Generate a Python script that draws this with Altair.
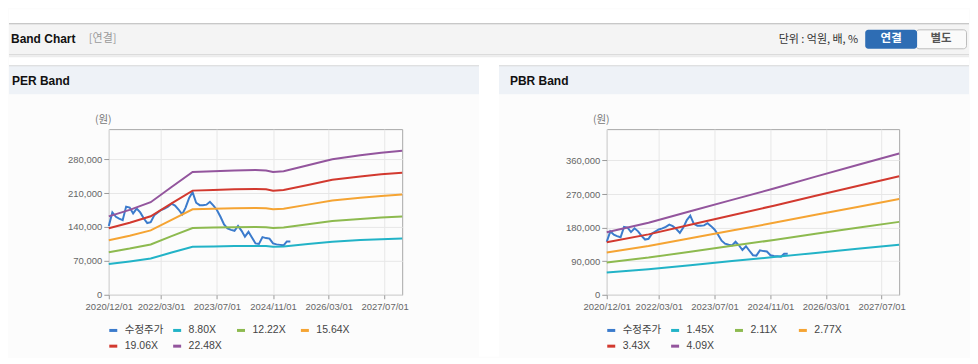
import altair as alt
import pandas as pd

# ---------------- data ----------------
band_dates = ["2020-12-01", "2021-06-01", "2021-12-01", "2022-06-01", "2022-12-01",
              "2023-06-01", "2023-12-01", "2024-06-01", "2024-09-01", "2024-11-01",
              "2025-02-01", "2025-09-01", "2026-04-01", "2026-12-01", "2027-06-01",
              "2027-12-01"]
per_labels = ["8.80X", "12.22X", "15.64X", "19.06X", "22.48X"]
per_880 = [63360, 68640, 74800, 87120, 99260, 99880, 100500, 100760, 100500, 99260,
           99880, 104720, 109560, 112820, 114840, 116340]
per_1222 = [87980, 95320, 103870, 120980, 137840, 138700, 139550, 139920, 139550, 137840,
            138700, 145420, 152140, 156660, 159470, 161550]
per_1564 = [112610, 121990, 132940, 154840, 176420, 177510, 178610, 179080, 178610, 176420,
            177510, 186120, 194720, 200500, 204100, 206760]
per_1906 = [137230, 148670, 162010, 188690, 215000, 216330, 217670, 218240, 217670, 215000,
            216330, 226810, 237300, 244350, 248730, 251970]
per_2248 = [161860, 175340, 191080, 222550, 253570, 255150, 256720, 257400, 256720, 253570,
            255150, 267510, 279880, 288190, 293360, 297190]

pbr_dates = ["2020-12-01", "2021-12-01", "2022-12-01", "2023-12-01", "2024-12-01",
             "2025-12-01", "2026-12-01", "2027-12-01"]
pbr_labels = ["1.45X", "2.11X", "2.77X", "3.43X", "4.09X"]
pbr_145 = [59450, 68440, 79320, 90190, 100920, 112230, 123250, 134270]
pbr_211 = [86510, 99590, 115420, 131240, 146860, 163310, 179350, 195390]
pbr_277 = [113570, 130740, 151520, 172290, 192790, 214400, 235450, 256500]
pbr_343 = [140630, 161900, 187620, 213350, 238730, 265480, 291550, 317620]
pbr_409 = [167690, 193050, 223720, 254400, 284660, 316570, 347650, 378730]

price_name = "수정주가"
price_values = [142000, 170000, 161000, 157000, 154000, 182000, 180000, 168000, 178000, 170000,
                158000, 148000, 150000, 164000, 170000, 175000, 178000, 182000, 188000, 184000,
                176000, 166000, 180000, 200000, 212000, 190000, 185000, 185000, 186000, 192000,
                184000, 175000, 161000, 145000, 137000, 134000, 132000, 142000, 132000, 120000,
                130000, 118000, 106000, 105000, 119000, 117000, 116000, 106000, 104000, 103000,
                102000, 110000, 110000]
price_dates = pd.date_range("2020-12-01", periods=len(price_values), freq="MS").strftime("%Y-%m-%d").tolist()

x_ticks = ["2020-12-01", "2022-03-01", "2023-07-01", "2024-11-01", "2026-03-01", "2027-07-01"]
x_domain = ["2020-12-01", "2027-12-01"]
per_y_ticks = [0, 70000, 140000, 210000, 280000]
pbr_y_ticks = [0, 90000, 180000, 270000, 360000]
per_y_max = 342000
pbr_y_max = 444000

series_colors = ["#3b7bcc", "#22b3c7", "#8dba4f", "#f5a433", "#d2392f", "#93559d"]


def ms(d):
    return int(pd.Timestamp(d, tz="UTC").value // 10**6)


def band_frame(dates, labels, series):
    rows = []
    for lab, vals in zip(labels, series):
        for d, v in zip(dates, vals):
            rows.append({"date": d, "value": v, "series": lab})
    return pd.DataFrame(rows)


price_df = pd.DataFrame({"date": price_dates, "value": price_values, "series": price_name})
per_df = band_frame(band_dates, per_labels, [per_880, per_1222, per_1564, per_1906, per_2248])
pbr_df = band_frame(pbr_dates, pbr_labels, [pbr_145, pbr_211, pbr_277, pbr_343, pbr_409])

LBL_FONT = "Liberation Sans, Noto Sans CJK KR"
KR_FONT = "Noto Sans CJK KR"
PLOT_H = 166


def panel(band_df, labels, y_max, y_ticks, width):
    domain = [price_name] + labels
    color = alt.Color(
        "series:N",
        scale=alt.Scale(domain=domain, range=series_colors),
        legend=alt.Legend(
            orient="none", legendX=-1, legendY=196, direction="horizontal", columns=4,
            title=None, symbolType="stroke", symbolStrokeWidth=3, symbolSize=64,
            labelFont=LBL_FONT, labelFontSize=10.5, labelColor="#444", labelOffset=6,
            columnPadding=3, rowPadding=3, gridAlign="all", padding=0,
        ),
    )
    x = alt.X(
        "date:T",
        scale=alt.Scale(type="utc", domain=[ms(x_domain[0]), ms(x_domain[1])]),
        axis=alt.Axis(values=[ms(t) for t in x_ticks],
                      labelExpr="utcFormat(datum.value, '%Y/%m/%d')", title=None),
    )
    y = alt.Y(
        "value:Q",
        scale=alt.Scale(domain=[0, y_max], nice=False, zero=True),
        axis=alt.Axis(values=y_ticks, labelExpr="format(datum.value, ',')", title="(원)",
                      titleAngle=0, titleX=-6, titleY=-10, titleAlign="center",
                      titleBaseline="middle"),
    )
    price = alt.Chart(price_df).mark_line(strokeWidth=2).encode(x=x, y=y, color=color)
    bands = alt.Chart(band_df).mark_line(strokeWidth=2).encode(x=x, y=y, color=color)
    return [price, bands]


# ---------------- page decoration (page pixel coords) ----------------
one = pd.DataFrame({"k": [0]})
OX, OY = 108, 128


def deco_rect(x1, x2, y1, y2, fill, stroke=None, radius=0):
    kw = dict(fill=fill)
    if stroke:
        kw.update(stroke=stroke, strokeWidth=1)
    if radius:
        kw["cornerRadius"] = radius
    return alt.Chart(one).mark_rect(**kw).encode(
        x=alt.value(x1 - OX), x2=alt.value(x2 - OX), y=alt.value(y1 - OY), y2=alt.value(y2 - OY)
    )


def deco_text(x, y, text, size, color, font, weight="normal", align="left"):
    return alt.Chart(one).mark_text(
        align=align, baseline="middle", fontSize=size, color=color, font=font, fontWeight=weight
    ).encode(x=alt.value(x - OX), y=alt.value(y - OY), text=alt.value(text))


decos = [
    deco_rect(8, 970, 8, 22, "#ffffff"),
    deco_rect(8, 970, 53, 64, "#ffffff"),
    deco_rect(8, 970, 22, 53, "#f4f4f4"),
    deco_rect(8, 970, 22, 23, "#b8b8b8"),
    deco_rect(8, 970, 53, 54, "#d0d0d0"),
    deco_rect(8, 970, 54, 56, "#ececec"),
    deco_rect(8, 479, 64, 93, "#eef2f7"),
    deco_rect(499, 970, 64, 93, "#eef2f7"),
    deco_rect(8, 479, 64, 65, "#d8d8d8"),
    deco_rect(499, 970, 64, 65, "#d8d8d8"),
    deco_rect(479, 499, 64, 356, "#ffffff"),
    deco_text(10, 38, "Band Chart", 12, "#111111", "Liberation Sans", "bold"),
    deco_text(88, 38, "[연결]", 11, "#999999", KR_FONT),
    deco_text(859, 39, "단위 : 억원, 배, %", 11, "#333333", KR_FONT, align="right"),
    deco_rect(917, 967.5, 28.5, 47.5, "#fafafa", stroke="#bdbdbd", radius=3),
    deco_rect(866, 918, 28.5, 47.5, "#2e6db4", radius=3),
    deco_text(892, 38, "연결", 11.5, "#ffffff", KR_FONT, "bold", align="center"),
    deco_text(942, 38, "별도", 11.5, "#555555", KR_FONT, "bold", align="center"),
    deco_text(11, 80, "PER Band", 12, "#111111", "Liberation Sans", "bold"),
    deco_text(510, 80, "PBR Band", 12, "#111111", "Liberation Sans", "bold"),
]

left = alt.layer(*decos, *panel(per_df, per_labels, per_y_max, per_y_ticks, 294)).properties(
    width=294, height=PLOT_H
)
right = alt.layer(*panel(pbr_df, pbr_labels, pbr_y_max, pbr_y_ticks, 293)).properties(
    width=293, height=PLOT_H
)

chart = (
    alt.hconcat(left, right, spacing=205, bounds="flush")
    .resolve_scale(color="independent", x="independent", y="independent")
    .resolve_legend(color="independent")
    .properties(padding={"left": 0, "top": 0, "right": 0, "bottom": 0}, background="#fcfcfc")
    .configure_view(stroke="#a8a8a8", strokeWidth=1)
    .configure_axis(
        labelFont=LBL_FONT, labelFontSize=9.5, labelColor="#666666", tickColor="#9a9a9a",
        gridColor="#e7e7e7", domain=False, titleFont=KR_FONT, titleFontSize=10.5,
        titleColor="#777777", titleFontWeight="normal", labelOverlap=False,
    )
    .configure_axisY(tickSize=5, labelPadding=2)
    .configure_axisX(tickSize=4, labelPadding=3, labelFlush=False)
)

chart.save("out.html", embed_options={"renderer": "svg", "actions": False})
